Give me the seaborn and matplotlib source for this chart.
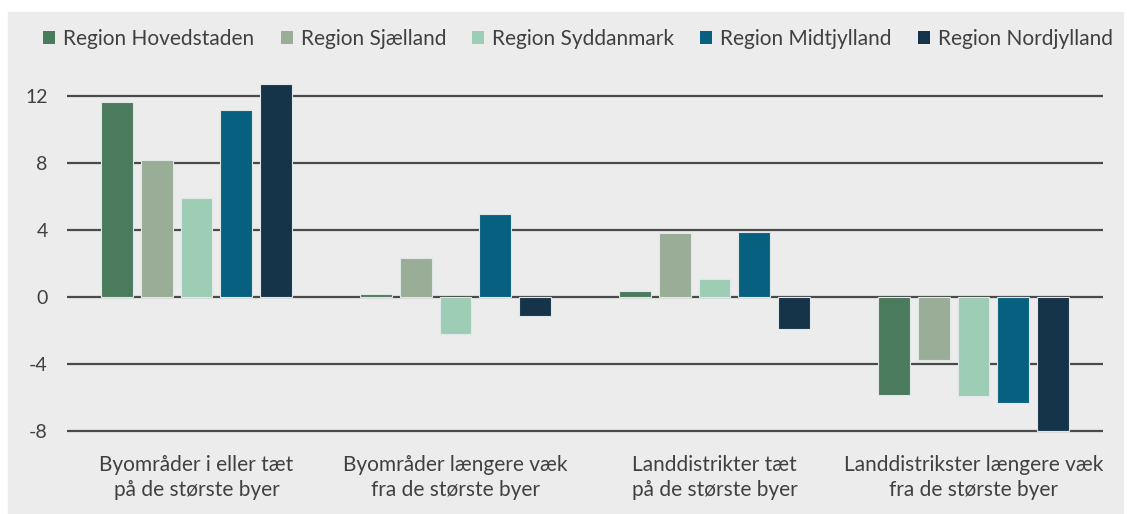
import pandas as pd
import matplotlib.pyplot as plt
import seaborn as sns
from matplotlib.patches import Rectangle, Patch

categories = ["Byområder i eller tæt\npå de største byer",
              "Byområder længere væk\nfra de største byer",
              "Landdistrikter tæt\npå de største byer",
              "Landdistrikster længere væk\nfra de største byer"]
regions = ["Region Hovedstaden", "Region Sjælland", "Region Syddanmark",
           "Region Midtjylland", "Region Nordjylland"]
hovedstaden = [11.64, 0.16, 0.34, -5.84]
sjaelland = [8.16, 2.31, 3.82, -3.78]
syddanmark = [5.89, -2.2, 1.09, -5.93]
midtjylland = [11.15, 4.97, 3.87, -6.35]
nordjylland = [12.73, -1.15, -1.89, -7.98]
colors = ["#4b7b5d", "#9aad97", "#9ecdb6", "#07607f", "#15344a"]

rows = []
for reg, vals in zip(regions, [hovedstaden, sjaelland, syddanmark, midtjylland, nordjylland]):
    for cat, v in zip(categories, vals):
        rows.append({"category": cat, "region": reg, "value": v})
df = pd.DataFrame(rows)

sns.set_style("white")
plt.rcParams["font.family"] = ["Lato", "DejaVu Sans"]

W, H = 1127, 514
fig = plt.figure(figsize=(W / 100, H / 100), dpi=100, facecolor="white")
fig.patches.append(Rectangle((8 / W, 0), (1123 - 8) / W, (H - 12) / H,
                             transform=fig.transFigure, color="#ececec", zorder=-1))

ymin, ymax = -8.3, 13
px_per = 16.75
top_px = 297 - ymax * px_per
bot_px = 297 - ymin * px_per
ax = fig.add_axes([67 / W, 1 - bot_px / H, (1103 - 67) / W, (bot_px - top_px) / H])
ax.set_facecolor("none")

sns.barplot(data=df, x="category", y="value", hue="region", hue_order=regions,
            palette=colors, saturation=1, width=0.77, gap=0.2, ax=ax, legend=False,
            edgecolor="#dfe8e6", linewidth=0.8, zorder=3)

ax.set_ylim(ymin, ymax)
ax.set_xlim(-0.5, 3.5)
ax.set_yticks([-8, -4, 0, 4, 8, 12])
ax.set_yticklabels(["-8", "-4", "0", "4", "8", "12"])
for y in [-8, -4, 0, 4, 8, 12]:
    ax.axhline(y, color="#4a4a4a", linewidth=1.6, zorder=2)
for s in ax.spines.values():
    s.set_visible(False)
ax.tick_params(axis="y", length=0, pad=14, labelsize=14, labelcolor="#404040")
ax.tick_params(axis="x", length=0, pad=14, labelsize=15, labelcolor="#404040")
for lbl in ax.get_xticklabels():
    lbl.set_linespacing(1.3)
ax.set_xlabel("")
ax.set_ylabel("")

handles = [Patch(facecolor=c, edgecolor="none") for c in colors]
fig.legend(handles, regions, loc="center", bbox_to_anchor=(578 / W, 1 - 39 / H),
           ncol=5, frameon=False, fontsize=15, handlelength=0.58, handleheight=0.58,
           handletextpad=0.38, columnspacing=1.25, labelcolor="#404040")

fig.savefig("out.png", dpi=100, facecolor="white")
